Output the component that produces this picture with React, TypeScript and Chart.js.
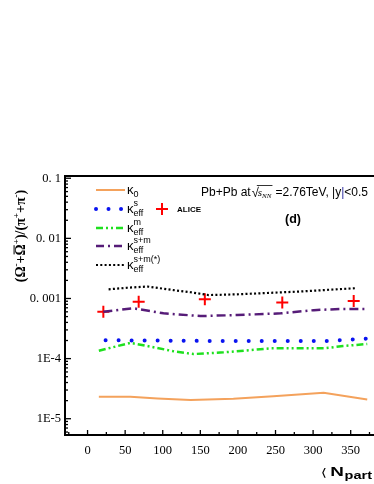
import React, { useEffect, useRef } from "react";
import { Chart, registerables } from "chart.js";
Chart.register(...registerables);

// ---- data ----
const NPART_K0 = [15, 57, 93, 137, 194, 247, 314, 372];
const K0 = [2.31e-5, 2.31e-5, 2.17e-5, 2.04e-5, 2.15e-5, 2.37e-5, 2.7e-5, 2.09e-5];

const NPART_KS = [24, 150, 320, 345, 372];
const KS = [2.02e-4, 1.97e-4, 1.96e-4, 2.06e-4, 2.15e-4];

const NPART_KM = [15, 57, 84, 115, 141, 181, 243, 314, 340, 372];
const KM = [1.35e-4, 1.83e-4, 1.58e-4, 1.32e-4, 1.19e-4, 1.27e-4, 1.48e-4, 1.48e-4, 1.62e-4, 1.75e-4];

const NPART_KSM = [21, 61, 101, 150, 199, 257, 301, 336, 372];
const KSM = [6.0e-4, 6.87e-4, 5.66e-4, 5.1e-4, 5.3e-4, 5.66e-4, 6.4e-4, 6.7e-4, 6.7e-4];

const NPART_KSMS = [28, 53, 80, 114, 137, 161, 197, 279, 356];
const KSMS = [1.42e-3, 1.51e-3, 1.58e-3, 1.38e-3, 1.27e-3, 1.14e-3, 1.17e-3, 1.3e-3, 1.48e-3];

const NPART_ALICE = [21, 68, 156, 259, 354];
const ALICE = [6.0e-4, 8.85e-4, 9.7e-4, 8.6e-4, 9.1e-4];

const X_TICKS = [0, 50, 100, 150, 200, 250, 300, 350];
const Y_TICKS = [1e-5, 1e-4, 1e-3, 1e-2, 1e-1];
const Y_TICK_LABELS = ["1E-5", "1E-4", "0. 001", "0. 01", "0. 1"];

const ORANGE = "#F4A25C";
const BLUE = "#0A14F0";
const GREEN = "#1EE01E";
const PURPLE = "#561C78";
const BLACK = "#000000";
const RED = "#FF0000";

const SANS = "'Liberation Sans', Arial, sans-serif";
const SERIF = "'Liberation Serif', 'Times New Roman', serif";

type Seg = {
  t: string;
  size: number;
  dy?: number;
  family?: string;
  weight?: string;
  style?: string;
  over?: boolean;
  color?: string;
  gap?: number;
};

function drawSegs(ctx: CanvasRenderingContext2D, segs: Seg[], x: number, y: number, measureOnly = false) {
  let cx = x;
  for (const s of segs) {
    ctx.font = `${s.style || "normal"} ${s.weight || "normal"} ${s.size}px ${s.family || SANS}`;
    const w = ctx.measureText(s.t).width;
    if (!measureOnly) {
      ctx.fillStyle = s.color || "#000";
      ctx.fillText(s.t, cx, y + (s.dy || 0));
      if (s.over) {
        ctx.strokeStyle = s.color || "#000";
        ctx.lineWidth = 1;
        ctx.beginPath();
        const oy = y + (s.dy || 0) - s.size * 0.78;
        ctx.moveTo(cx + 1, oy);
        ctx.lineTo(cx + w - 1, oy);
        ctx.stroke();
      }
    }
    cx += w + (s.gap || 0);
  }
  return cx - x;
}

function drawKappa(ctx: CanvasRenderingContext2D, x: number, y: number, sup: string | null, sub: string) {
  ctx.fillStyle = "#000";
  ctx.textBaseline = "alphabetic";
  ctx.textAlign = "left";
  ctx.font = `normal 13px ${SANS}`;
  ctx.fillText("κ", x, y);
  const kw = ctx.measureText("κ").width;
  ctx.font = `normal 9px ${SANS}`;
  ctx.fillText(sub, x + kw, y + 3);
  if (sup) {
    ctx.fillText(sup, x + kw, y - 7);
  }
}

function drawSample(ctx: CanvasRenderingContext2D, y: number, color: string, width: number, dash: number[], cap: CanvasLineCap) {
  ctx.save();
  ctx.strokeStyle = color;
  ctx.lineWidth = width;
  ctx.setLineDash(dash);
  ctx.lineCap = cap;
  ctx.beginPath();
  ctx.moveTo(96, y);
  ctx.lineTo(125, y);
  ctx.stroke();
  ctx.restore();
}

const decorPlugin = {
  id: "decor",
  afterDraw(chart: any) {
    const ctx: CanvasRenderingContext2D = chart.ctx;
    const { left, right, top, bottom } = chart.chartArea;
    const xs = chart.scales.x;
    const ys = chart.scales.y;
    ctx.save();

    // frame
    ctx.strokeStyle = "#000";
    ctx.lineWidth = 2;
    ctx.beginPath();
    ctx.moveTo(right + 2, top);
    ctx.lineTo(left, top);
    ctx.lineTo(left, bottom);
    ctx.lineTo(right + 2, bottom);
    ctx.stroke();

    // y ticks (inward)
    ctx.lineWidth = 1.3;
    for (let e = -6; e <= -1; e++) {
      for (let m = 1; m <= 9; m++) {
        const v = m * Math.pow(10, e);
        if (v < ys.min || v > ys.max) continue;
        const py = ys.getPixelForValue(v);
        const len = m === 1 ? 6 : 3;
        ctx.beginPath();
        ctx.moveTo(left, py);
        ctx.lineTo(left + len, py);
        ctx.stroke();
      }
    }
    // x ticks (inward)
    for (let v = -25; v <= 375; v += 25) {
      const px = xs.getPixelForValue(v);
      if (px < left || px > right) continue;
      const len = v % 50 === 0 ? 5 : 3;
      ctx.beginPath();
      ctx.moveTo(px, bottom);
      ctx.lineTo(px, bottom - len);
      ctx.stroke();
    }

    // legend
    drawSample(ctx, 190, ORANGE, 2, [], "butt");
    drawKappa(ctx, 127, 194, null, "0");
    drawSample(ctx, 209, BLUE, 4, [0.01, 12.5], "round");
    drawKappa(ctx, 127, 213, "s", "eff");
    drawSample(ctx, 228, GREEN, 2.5, [7, 3, 2, 3, 2, 3], "butt");
    drawKappa(ctx, 127, 232, "m", "eff");
    drawSample(ctx, 246, PURPLE, 2.5, [8, 4, 2, 4], "butt");
    drawKappa(ctx, 127, 250, "s+m", "eff");
    drawSample(ctx, 265, BLACK, 2.2, [2, 2.3], "butt");
    drawKappa(ctx, 127, 269, "s+m(*)", "eff");

    // ALICE legend
    ctx.strokeStyle = RED;
    ctx.lineWidth = 2;
    ctx.beginPath();
    ctx.moveTo(156, 209);
    ctx.lineTo(168, 209);
    ctx.moveTo(162, 203);
    ctx.lineTo(162, 215);
    ctx.stroke();
    ctx.fillStyle = "#000";
    ctx.font = `bold 8px ${SANS}`;
    ctx.textAlign = "left";
    ctx.textBaseline = "alphabetic";
    ctx.fillText("ALICE", 177, 212);

    // energy annotation
    let cx = 201;
    const by = 196;
    cx += drawSegs(ctx, [{ t: "Pb+Pb at", size: 12, family: SANS }], cx, by);
    cx += 1;
    ctx.font = `normal 13px ${SANS}`;
    ctx.fillStyle = "#000";
    ctx.fillText("√", cx, by + 1);
    const rw = ctx.measureText("√").width;
    cx += rw - 1;
    const sw = drawSegs(
      ctx,
      [
        { t: "s", size: 11, family: SERIF, style: "italic" },
        { t: "NN", size: 7, family: SERIF, style: "italic", dy: 2 },
      ],
      cx,
      by
    );
    ctx.strokeStyle = "#000";
    ctx.lineWidth = 0.8;
    ctx.beginPath();
    ctx.moveTo(cx - 1, by - 10.5);
    ctx.lineTo(cx + sw + 1, by - 10.5);
    ctx.stroke();
    cx += sw + 4;
    cx += drawSegs(
      ctx,
      [
        { t: "=2.76TeV, ", size: 12, family: SANS },
        { t: "|", size: 12, family: SANS },
        { t: "y", size: 12, family: SANS },
        { t: "|", size: 12, family: SANS, color: "#3030A0" },
        { t: "<0.5", size: 12, family: SANS },
      ],
      cx,
      by
    );

    // (d)
    ctx.font = `bold 12.5px ${SANS}`;
    ctx.fillStyle = "#000";
    ctx.fillText("(d)", 285, 223);

    // y axis title (rotated)
    const ysegs: Seg[] = [
      { t: "(Ω", size: 14, weight: "bold", family: SERIF },
      { t: "-", size: 9, weight: "bold", family: SERIF, dy: -6 },
      { t: "+", size: 14, weight: "bold", family: SERIF },
      { t: "Ω", size: 14, weight: "bold", family: SERIF, over: true },
      { t: "+", size: 9, weight: "bold", family: SERIF, dy: -6 },
      { t: ")/(π", size: 14, weight: "bold", family: SERIF },
      { t: "+", size: 9, weight: "bold", family: SERIF, dy: -6 },
      { t: "+π", size: 14, weight: "bold", family: SERIF },
      { t: "-", size: 9, weight: "bold", family: SERIF, dy: -6 },
      { t: ")", size: 14, weight: "bold", family: SERIF },
    ];
    ctx.save();
    ctx.translate(25, 236);
    ctx.rotate(-Math.PI / 2);
    ctx.textAlign = "left";
    const tw = drawSegs(ctx, ysegs, 0, 0, true);
    drawSegs(ctx, ysegs, -tw / 2, 0);
    ctx.restore();

    // x axis title (horizontally stretched as in the original)
    ctx.save();
    ctx.translate(323, 476);
    ctx.scale(1.45, 1);
    ctx.textAlign = "left";
    ctx.fillStyle = "#000";
    ctx.font = `normal 11px 'DejaVu Sans', sans-serif`;
    ctx.fillText("⟨", -1.5, 0);
    ctx.font = `bold 13px ${SANS}`;
    ctx.fillText("N", 5, 0);
    const nw = ctx.measureText("N").width;
    ctx.font = `bold 10px ${SANS}`;
    ctx.fillText("part", 5 + nw + 0.5, 3);
    ctx.restore();

    ctx.restore();
  },
};

export default function App() {
  const ref = useRef<HTMLCanvasElement | null>(null);
  useEffect(() => {
    if (!ref.current) return;
    const pts = (xs: number[], ys: number[]) => xs.map((x, i) => ({ x, y: ys[i] }));
    const chart = new Chart(ref.current, {
      type: "line",
      data: {
        datasets: [
          { label: "κ0", data: pts(NPART_K0, K0), borderColor: ORANGE, borderWidth: 2, pointRadius: 0, tension: 0, fill: false },
          { label: "κs_eff", data: pts(NPART_KS, KS), borderColor: BLUE, borderWidth: 4, borderDash: [0.01, 13], borderCapStyle: "round", pointRadius: 0, tension: 0, fill: false },
          { label: "κm_eff", data: pts(NPART_KM, KM), borderColor: GREEN, borderWidth: 2.5, borderDash: [7, 3, 2, 3, 2, 3], pointRadius: 0, tension: 0, fill: false },
          { label: "κs+m_eff", data: pts(NPART_KSM, KSM), borderColor: PURPLE, borderWidth: 2.5, borderDash: [9, 4, 2, 4], pointRadius: 0, tension: 0, fill: false },
          { label: "κs+m(*)_eff", data: pts(NPART_KSMS, KSMS), borderColor: BLACK, borderWidth: 2.2, borderDash: [2, 2.3], pointRadius: 0, tension: 0, fill: false },
          { label: "ALICE", data: pts(NPART_ALICE, ALICE), showLine: false, pointStyle: "cross", pointRadius: 6, borderColor: RED, backgroundColor: RED, pointBorderWidth: 2, borderWidth: 2 },
        ] as any,
      },
      options: {
        animation: false,
        responsive: false,
        events: [],
        layout: { autoPadding: false, padding: { top: 176, left: 0, right: 0, bottom: 0 } },
        plugins: { legend: { display: false }, tooltip: { enabled: false }, title: { display: false } },
        scales: {
          x: {
            type: "linear",
            min: -30,
            max: 381,
            grid: { display: false, drawTicks: false },
            border: { display: false },
            afterBuildTicks: (s: any) => {
              s.ticks = X_TICKS.map((v) => ({ value: v }));
            },
            afterFit: (s: any) => {
              s.height = 49;
              s.paddingLeft = 0;
              s.paddingRight = 0;
            },
            ticks: {
              autoSkip: false,
              maxRotation: 0,
              padding: 8,
              color: "#000",
              font: { family: SERIF, size: 12.5 },
            },
          },
          y: {
            type: "logarithmic",
            min: 5.36e-6,
            max: 0.109,
            grid: { display: false, drawTicks: false },
            border: { display: false },
            afterBuildTicks: (s: any) => {
              s.ticks = Y_TICKS.map((v) => ({ value: v }));
            },
            afterFit: (s: any) => {
              s.width = 65;
              s.paddingTop = 0;
              s.paddingBottom = 0;
            },
            ticks: {
              autoSkip: false,
              padding: 4,
              color: "#000",
              font: { family: SERIF, size: 12.5 },
              callback: (_v: any, i: number) => Y_TICK_LABELS[i],
            },
          },
        },
      } as any,
      plugins: [decorPlugin],
    });
    return () => chart.destroy();
  }, []);
  return (
    <div style={{ position: "fixed", left: 0, top: 0, width: 374, height: 484, background: "#fff", overflow: "hidden" }}>
      <canvas ref={ref} width={374} height={484} style={{ display: "block", width: 374, height: 484 }} />
    </div>
  );
}
